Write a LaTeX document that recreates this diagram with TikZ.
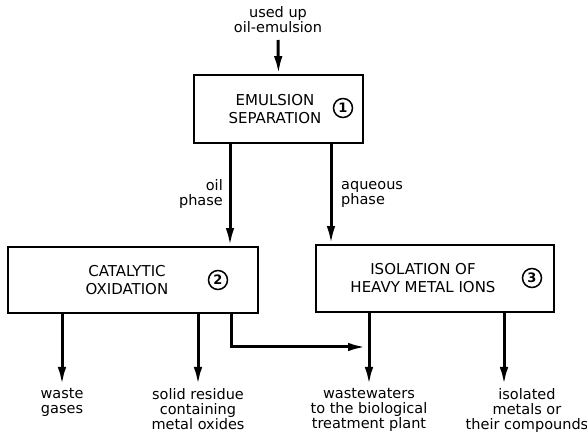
\documentclass[tikz,border=0pt]{standalone}
\usepackage{fontspec}
\setmainfont{DejaVu Sans}
\usetikzlibrary{arrows.meta}
\begin{document}
\begin{tikzpicture}[x=1pt,y=-1pt,
  box/.style={draw,line width=1.7pt,inner sep=0pt},
  caps/.style={font=\fontsize{15}{18}\selectfont,align=center,inner sep=0pt},
  lab/.style={font=\fontsize{14.5}{15}\selectfont,align=center,inner sep=0pt},
  num/.style={draw,circle,line width=1.5pt,minimum size=19pt,inner sep=0pt,font=\fontsize{13}{13}\selectfont\bfseries},
  arr/.style={line width=3pt,-{Latex[length=18pt,width=8.5pt]}}]
\useasboundingbox (0,0) rectangle (587,435);
% boxes
\node[box,minimum width=169pt,minimum height=68pt] (b1) at (278.5,109) {};
\node[box,minimum width=250pt,minimum height=66pt] (b2) at (133,280) {};
\node[box,minimum width=238pt,minimum height=67pt] (b3) at (435,278.5) {};
% box texts
\node[caps] (t1) at (275,109) {EMULSION\\SEPARATION};
\node[num] (n1) at (343,108) {1};
\node[caps] (t2) at (127,280) {CATALYTIC\\OXIDATION};
\node[num] (n2) at (218,280) {2};
\node[caps] (t3) at (423,278) {ISOLATION OF\\HEAVY METAL IONS};
\node[num] (n3) at (532,278) {3};
% input
\node[lab] (in) at (278,20) {used up\\oil-emulsion};
\coordinate (inS) at (278,40);
\draw[arr] (inS) -- (b1.north);
% phases
\coordinate (oilx) at (230,0);
\coordinate (aqx) at (331,0);
\draw[arr] (b1.south -| oilx) -- (b2.north -| oilx);
\draw[arr] (b1.south -| aqx) -- (b3.north -| aqx);
\node[lab,anchor=east,align=right] (oilL) at (223,194) {oil\\phase};
\node[lab,anchor=west,align=left] (aqL) at (341,194) {aqueous\\phase};
% output tips
\coordinate (e1) at (62,385);
\coordinate (e2) at (198,385);
\coordinate (e3) at (369,385);
\coordinate (e4) at (504,385);
\draw[arr] (b2.south -| e1) -- (e1);
\draw[arr] (b2.south -| e2) -- (e2);
\draw[arr] (b3.south -| e3) -- (e3);
\draw[arr] (b3.south -| e4) -- (e4);
\coordinate (bx) at (231,0);
\coordinate (j) at (366,347);
\draw[arr] (b2.south -| bx) |- (j);
% labels
\node[lab,anchor=north] (o1) at (62,388) {waste\\gases};
\node[lab,anchor=north] (o2) at (198,388) {solid residue\\containing\\metal oxides};
\node[lab,anchor=north] (o3) at (369,388) {wastewaters\\to the biological\\treatment plant};
\node[lab,anchor=north] (o4) at (527,388) {isolated\\metals or\\their compounds};
\end{tikzpicture}
\end{document}
